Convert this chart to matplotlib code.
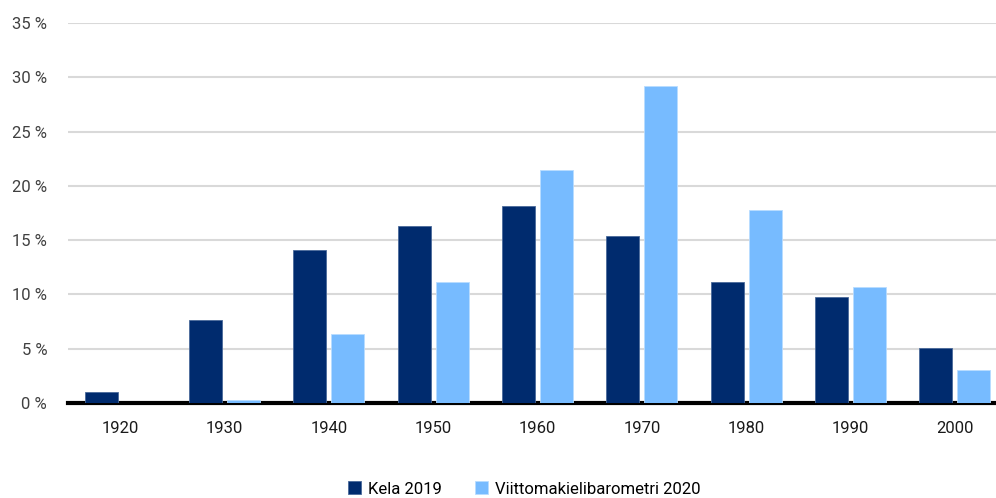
import matplotlib
matplotlib.use("Agg")
import matplotlib.pyplot as plt
import numpy as np

decades = ['1920', '1930', '1940', '1950', '1960', '1970', '1980', '1990', '2000']
kela_2019 = [1.0, 7.6, 14.1, 16.3, 18.1, 15.4, 11.1, 9.8, 5.1]
barometri_2020 = [0.0, 0.3, 6.4, 11.1, 21.5, 29.2, 17.8, 10.7, 3.0]
y_ticks = [0, 5, 10, 15, 20, 25, 30, 35]

plt.rcParams['font.family'] = ['Roboto', 'DejaVu Sans']

fig = plt.figure(figsize=(9.96, 4.98), dpi=100)
# axes run slightly past the right edge of the figure
left, right = 68 / 996, 1007 / 996
bottom, top = 1 - 403 / 498, 1 - 23 / 498
ax = fig.add_axes([left, bottom, right - left, top - bottom])

x = np.arange(len(decades))
w = 0.316
off = 0.182
ax.bar(x - off, kela_2019, w, color='#002b6e', edgecolor='#4a6a9a', linewidth=0.6,
       label='Kela 2019', zorder=3)
ax.bar(x + off, barometri_2020, w, color='#77bbff', edgecolor='#b8dcff', linewidth=0.6,
       label='Viittomakielibarometri 2020', zorder=3)

ax.set_xlim(-0.5, len(decades) - 0.5)
ax.set_ylim(0, 35)
ax.set_yticks(y_ticks)
ax.set_yticklabels([f'{v} %' for v in y_ticks])
ax.set_xticks(x)
ax.set_xticklabels(decades)
ax.yaxis.grid(True, color='#d9d9d9', linewidth=1.5, zorder=0)
ax.set_axisbelow(True)
for s in ['top', 'right', 'left']:
    ax.spines[s].set_visible(False)
ax.spines['bottom'].set_linewidth(3)
ax.spines['bottom'].set_color('black')
ax.spines['bottom'].set_zorder(2)
ax.tick_params(axis='both', length=0, labelsize=12)
ax.tick_params(axis='y', labelcolor='#404040', pad=15)
ax.tick_params(axis='x', labelcolor='#1a1a1a', pad=13)

fig.legend(loc='center', bbox_to_anchor=(524 / 996, 1 - 489 / 498), ncol=2, frameon=False,
           fontsize=12, handlelength=0.8, handleheight=0.8, handletextpad=0.4,
           columnspacing=2.0, borderpad=0)

fig.savefig('out.png', dpi=100)
